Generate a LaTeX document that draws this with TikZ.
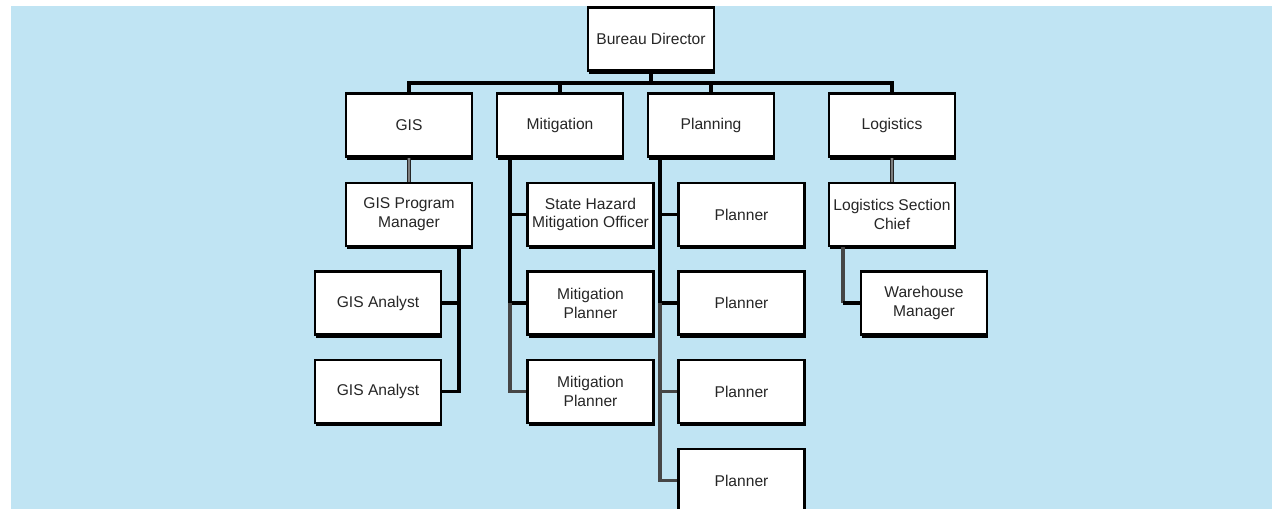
\documentclass[tikz,border=0pt]{standalone}
\usepackage{fontspec}
\setmainfont{Liberation Sans}
\usetikzlibrary{shadows}
\definecolor{bg}{RGB}{192,228,243}
\definecolor{gline}{RGB}{125,125,125}
\definecolor{dline}{RGB}{70,70,70}
\begin{document}
\begin{tikzpicture}[x=0.75pt,y=-0.75pt,
  box/.style={draw=black, line width=1.8pt, fill=white, minimum width=94.5pt, minimum height=47.5pt,
    inner sep=0pt, align=center, font=\fontsize{11.7}{14.2}\selectfont, text=black!85,
    drop shadow={shadow xshift=1.1pt, shadow yshift=-2.4pt, fill=black, opacity=1}},
  conn/.style={draw=black, line width=2.4pt},
  dconn/.style={draw=dline, line width=2.4pt},
  gconn/.style={draw=black!85, line width=0.8pt, double=gline, double distance=1pt},
]
\useasboundingbox (0,0) rectangle (1272,509);
\clip (0,0) rectangle (1272,509);
\fill[white] (0,0) rectangle (1272,509);
\fill[bg] (11,6) rectangle (1272,509);

% nodes
\node[box] (dir) at (651,39) {Bureau Director};
\node[box] (gis) at (409,125) {GIS};
\node[box] (mit) at (560,125) {Mitigation};
\node[box] (pln) at (711,125) {Planning};
\node[box] (log) at (892,125) {Logistics};

\node[box] (gpm) at (409,214.5) {GIS Program\\Manager};
\node[box] (ga1) at (378,303) {GIS Analyst};
\node[box] (ga2) at (378,391.5) {GIS Analyst};

\node[box] (shmo) at (590.5,214.5) {State Hazard\\Mitigation Officer};
\node[box] (mp1) at (590.5,303) {Mitigation\\Planner};
\node[box] (mp2) at (590.5,391.5) {Mitigation\\Planner};

\node[box] (p1) at (741.5,214.5) {Planner};
\node[box] (p2) at (741.5,303) {Planner};
\node[box] (p3) at (741.5,391.5) {Planner};
\node[box] (p4) at (741.5,480.5) {Planner};

\node[box] (lsc) at (892,214.5) {Logistics Section\\Chief};
\node[box] (wm) at (924,303) {Warehouse\\Manager};

% helper coordinates
\coordinate (bus) at (0,83);
\coordinate (gx) at (459,0);
\coordinate (mx) at (510,0);
\coordinate (px) at (660,0);
\coordinate (lx) at (843,0);

% top level
\draw[conn] (dir.south) -- (dir.south |- bus);
\draw[conn] (gis.north) |- (log.north |- bus) -- (log.north);
\draw[conn] (mit.north) -- (mit.north |- bus);
\draw[conn] (pln.north) -- (pln.north |- bus);

% GIS
\draw[gconn] (gis.south) -- (gpm.north);
\draw[conn] (gpm.south -| gx) |- (ga2.east);
\draw[conn] (ga1.east) -- (ga1.east -| gx);

% Mitigation
\draw[conn] (mit.south -| mx) |- (shmo.west);
\draw[conn] (mx |- shmo.west) |- (mp1.west);
\draw[dconn] (mx |- mp1.west) |- (mp2.west);

% Planning
\draw[conn] (pln.south -| px) |- (p1.west);
\draw[conn] (px |- p1.west) |- (p2.west);
\draw[dconn] (px |- p2.west) |- (p3.west);
\draw[dconn] (px |- p3.west) |- (p4.west);

% Logistics
\draw[gconn] (log.south) -- (lsc.north);
\draw[dconn] (lsc.south -| lx) -- (lx |- wm.west);
\draw[conn] (lx |- wm.west) -- (wm.west);
\end{tikzpicture}
\end{document}
